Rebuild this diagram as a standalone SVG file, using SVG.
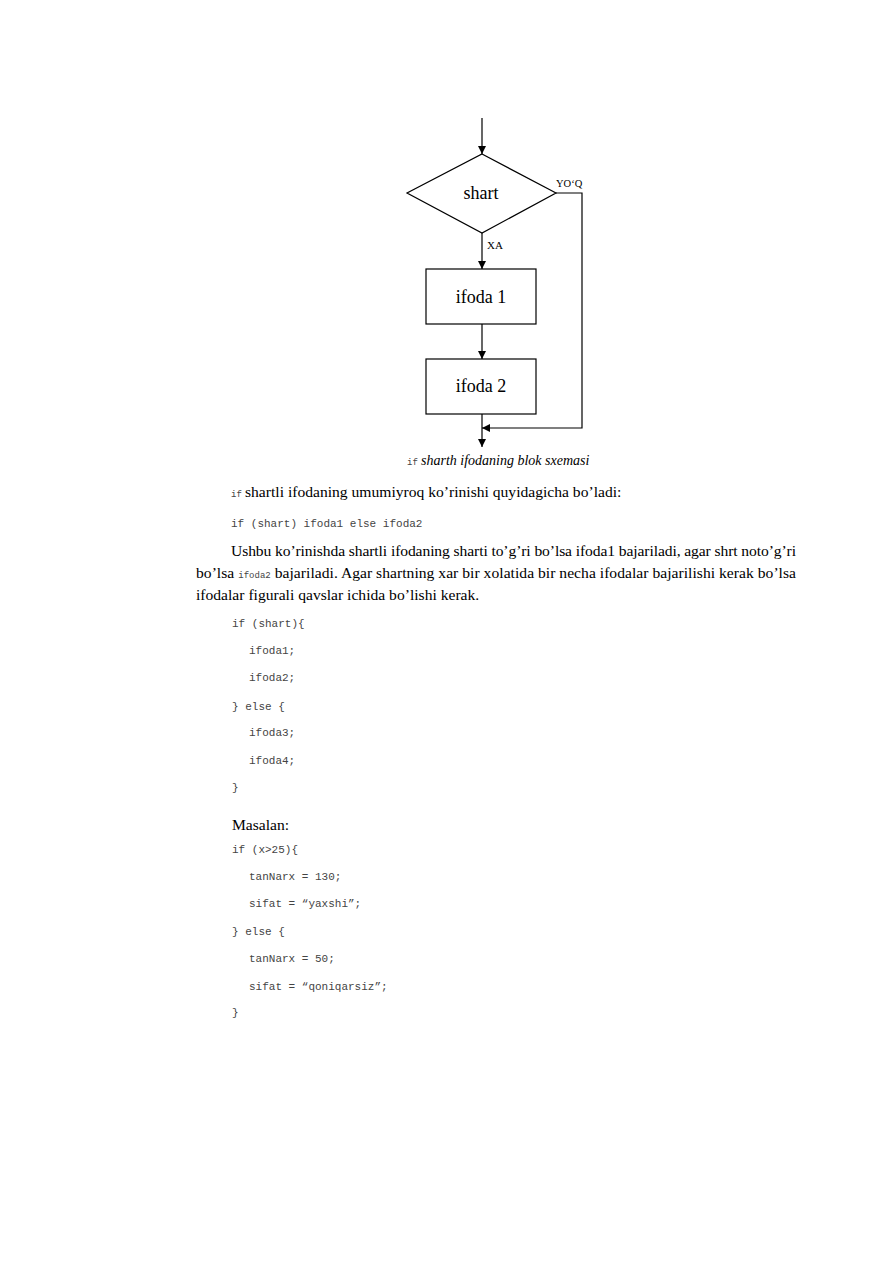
<svg xmlns="http://www.w3.org/2000/svg" width="893" height="1263" viewBox="0 0 893 1263">
<style>
.ln{stroke:#000;stroke-width:1.2;fill:none}
.shape{stroke:#000;stroke-width:1.2;fill:#fff}
.lbl{font-family:"Liberation Serif",serif;fill:#000}
.code{font-family:"Liberation Mono",monospace;font-size:11px;fill:#444}
.scode{font-family:"Liberation Mono",monospace;font-size:9px;fill:#444}
.body{font-family:"Liberation Serif",serif;font-size:15.6px;fill:#000}
</style>
<defs>
<marker id="arr" viewBox="0 0 10 10" refX="10" refY="5" markerWidth="8" markerHeight="8" markerUnits="userSpaceOnUse" orient="auto">
<path d="M0,0 L10,5 L0,10 z" fill="#000"/>
</marker>
</defs>
<rect width="893" height="1263" fill="#fff"/>
<g id="connectors">
<line class="ln" x1="482" y1="118" x2="482" y2="154" marker-end="url(#arr)"/>
<line class="ln" x1="482" y1="233" x2="482" y2="269" marker-end="url(#arr)"/>
<line class="ln" x1="482" y1="324" x2="482" y2="359" marker-end="url(#arr)"/>
<line class="ln" x1="482" y1="414" x2="482" y2="447" marker-end="url(#arr)"/>
<polyline class="ln" points="556,193 582,193 582,428 482,428" marker-end="url(#arr)"/>
<text class="lbl" x="556" y="187" font-size="10.5">YO‘Q</text>
<text class="lbl" x="487" y="249" font-size="11">XA</text>
</g>
<g id="node-shart">
<polygon class="shape" points="482,154 556,193 482,233 407,193"/>
<text class="lbl" x="481" y="199" font-size="18" text-anchor="middle">shart</text>
</g>
<g id="node-ifoda1">
<rect class="shape" x="426" y="269" width="110" height="55"/>
<text class="lbl" x="481" y="303" font-size="18" text-anchor="middle">ifoda 1</text>
</g>
<g id="node-ifoda2">
<rect class="shape" x="426" y="359" width="110" height="55"/>
<text class="lbl" x="481" y="392" font-size="18" text-anchor="middle">ifoda 2</text>
</g>
<g id="caption">
<text x="407" y="465" class="scode">if</text>
<text x="421" y="465" font-family="'Liberation Serif',serif" font-style="italic" font-size="14">sharth ifodaning blok sxemasi</text>
</g>
<g id="text">
<text x="231" y="497" class="scode">if</text>
<text x="245" y="497" class="body">shartli ifodaning umumiyroq ko’rinishi quyidagicha bo’ladi:</text>
<text x="231" y="527" class="code">if (shart) ifoda1 else ifoda2</text>
<text x="231" y="556" class="body" textLength="565" lengthAdjust="spacing">Ushbu ko’rinishda shartli ifodaning sharti to’g’ri bo’lsa ifoda1 bajariladi, agar shrt noto’g’ri</text>
<text x="196" y="578" class="body" textLength="600" lengthAdjust="spacing">bo’lsa <tspan class="scode">ifoda2</tspan> bajariladi. Agar shartning xar bir xolatida bir necha ifodalar bajarilishi kerak bo’lsa</text>
<text x="196" y="600" class="body">ifodalar figurali qavslar ichida bo’lishi kerak.</text>
<text x="232" y="627" class="code">if (shart){</text>
<text x="249" y="654" class="code">ifoda1;</text>
<text x="249" y="681" class="code">ifoda2;</text>
<text x="232" y="710" class="code">} else {</text>
<text x="249" y="736" class="code">ifoda3;</text>
<text x="249" y="764" class="code">ifoda4;</text>
<text x="232" y="791" class="code">}</text>
<text x="232" y="830" class="body">Masalan:</text>
<text x="232" y="853" class="code">if (x&gt;25){</text>
<text x="249" y="880" class="code">tanNarx = 130;</text>
<text x="249" y="907" class="code">sifat = “yaxshi”;</text>
<text x="232" y="935" class="code">} else {</text>
<text x="249" y="962" class="code">tanNarx = 50;</text>
<text x="249" y="990" class="code">sifat = “qoniqarsiz”;</text>
<text x="232" y="1016" class="code">}</text>
</g>
</svg>
